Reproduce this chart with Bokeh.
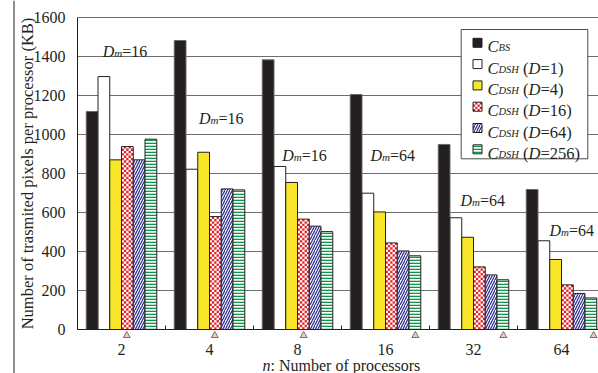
import math
from bokeh.plotting import figure
from bokeh.models import Range1d, FixedTicker, ColumnDataSource, Span
from bokeh.core.properties import value, field
from bokeh.embed import file_html
from bokeh.resources import INLINE

# ---------------- data ----------------
processors = ["2", "4", "8", "16", "32", "64"]
c_bs      = [1118, 1482, 1383, 1205, 949, 718]
c_dsh_1   = [1297, 822, 836, 699, 573, 455]
c_dsh_4   = [870, 909, 754, 603, 473, 359]
c_dsh_16  = [938, 579, 566, 444, 321, 229]
c_dsh_64  = [870, 721, 530, 403, 280, 185]
c_dsh_256 = [976, 716, 502, 378, 255, 162]
dm_values = ["16", "16", "16", "64", "64", "64"]
legend_sub = ["BS", "DSH", "DSH", "DSH", "DSH", "DSH"]
legend_d = [None, "1", "4", "16", "64", "256"]
y_ticks = [0, 200, 400, 600, 800, 1000, 1200, 1400, 1600]
y_title = "Number of trasmited pixels per processor (KB)"
x_title_var = "n"
x_title_rest = ": Number of processors"

# ---------------- geometry helpers (reference screen px -> data) ----------------
PX_GROUP = 88.0
PX_UNIT = 312.0 / 1600.0

def dx(sx):
    return (sx - 77.0) / PX_GROUP

def dy(sy):
    return (329.0 - sy) / PX_UNIT

FONT = "Liberation Serif"
INK = "#231f20"
RED = "#e3232b"

p = figure(width=598, height=373, output_backend="svg", toolbar_location=None,
           x_range=Range1d(dx(0), dx(598)), y_range=Range1d(dy(373), dy(0)),
           min_border=0, min_border_left=0, min_border_right=0,
           min_border_top=0, min_border_bottom=0)
p.outline_line_color = None
p.background_fill_color = "white"
p.border_fill_color = "white"

# grid
p.xgrid.visible = False
p.ygrid.ticker = FixedTicker(ticks=y_ticks)
p.ygrid.grid_line_color = "#6e6e6e"
p.ygrid.grid_line_width = 1
grid_ok = True
try:
    p.ygrid.cross_bounds = (0, 6)
except Exception:
    grid_ok = False
if not grid_ok:
    p.quad(left=[dx(0)], right=[0], bottom=[dy(373)], top=[dy(0)],
           fill_color="white", line_color=None)

# axes
p.xaxis.fixed_location = 0
p.xaxis.bounds = (0, 6)
p.xaxis.ticker = FixedTicker(ticks=[i + 0.5 for i in range(len(processors))],
                             minor_ticks=list(range(len(processors) + 1)))
p.xaxis.major_label_overrides = {i + 0.5: lab for i, lab in enumerate(processors)}
p.xaxis.major_tick_line_color = None
p.xaxis.major_tick_out = 0
p.xaxis.major_tick_in = 0
p.xaxis.minor_tick_in = 4
p.xaxis.minor_tick_out = 0
p.xaxis.minor_tick_line_color = INK
p.xaxis.major_label_standoff = 14
p.xaxis.axis_line_color = INK

p.yaxis.fixed_location = 0
p.yaxis.bounds = (0, 1600)
p.yaxis.ticker = FixedTicker(ticks=y_ticks)
p.yaxis.major_tick_line_color = None
p.yaxis.minor_tick_line_color = None
p.yaxis.major_tick_out = 0
p.yaxis.major_tick_in = 0
p.yaxis.major_label_standoff = 12
p.yaxis.axis_line_color = INK

for ax in (p.xaxis[0], p.yaxis[0]):
    ax.major_label_text_font = FONT
    ax.major_label_text_font_size = "16px"
    ax.major_label_text_color = INK

# outer frame line of the original figure
p.add_layout(Span(location=dx(13.5), dimension="height", line_color=INK, line_width=1))

# ---------------- bars ----------------
styles = [
    dict(fill_color="#231f20", line_color="#6a6a6a"),
    dict(fill_color="white", line_color=INK),
    dict(fill_color="#f9e62a", line_color=INK),
    "checker",
    dict(fill_color="white", line_color=INK, hatch_pattern="/", hatch_color="#2e3192",
         hatch_scale=5, hatch_weight=1.25),
    dict(fill_color="white", line_color=INK, hatch_pattern="-", hatch_color="#0f9548",
         hatch_scale=3, hatch_weight=1.6),
]
series = [c_bs, c_dsh_1, c_dsh_4, c_dsh_16, c_dsh_64, c_dsh_256]
W = 11.75 / PX_GROUP


def checker_cells(xl, xr, bottom, top, ncols, store):
    cw = (xr - xl) / ncols
    ch = cw * PX_GROUP / PX_UNIT
    rows = int(math.ceil((top - bottom) / ch - 1e-9))
    for r in range(rows):
        for c in range(ncols):
            if (r + c) % 2 == 0:
                store["left"].append(xl + c * cw)
                store["right"].append(xl + (c + 1) * cw)
                store["bottom"].append(bottom + r * ch)
                store["top"].append(min(bottom + (r + 1) * ch, top))


for j, (vals, st) in enumerate(zip(series, styles)):
    xs = [i + 0.5 + (j - 2.5) * W for i in range(len(processors))]
    if st == "checker":
        p.vbar(x=xs, bottom=0, top=vals, width=W, fill_color="white", line_color=None)
        cells = dict(left=[], right=[], bottom=[], top=[])
        for xc, v in zip(xs, vals):
            checker_cells(xc - W / 2, xc + W / 2, 0, v, 5, cells)
        p.quad(source=ColumnDataSource(cells), left="left", right="right",
               bottom="bottom", top="top", fill_color=RED, line_color=None)
        p.vbar(x=xs, bottom=0, top=vals, width=W, fill_color=None, line_color=INK,
               line_width=1)
    else:
        p.vbar(x=xs, bottom=0, top=vals, width=W, line_width=1, **st)

# small triangle markers under the axis
tri_offsets = [0.56, 0.56, 0.57, 0.84, 0.84, 0.865]
p.scatter(x=[i + o for i, o in enumerate(tri_offsets)], y=[dy(335)] * 6,
          marker="triangle", size=7, fill_color="#f3c3c9", line_color="#555555",
          line_width=0.8)

# ---------------- rich text helper ----------------
REG = {' ': 250, '(': 333, ')': 333, '=': 564, ':': 278, 'N': 722, 'K': 722, 'B': 667,
       'u': 500, 'm': 778, 'b': 500, 'e': 444, 'r': 333, 'o': 500, 'f': 333,
       'p': 500, 'c': 444, 's': 389}
ITA = {'C': 667, 'D': 722, 'B': 611, 'S': 500, 'H': 722, 'm': 722, 'n': 500}


def width(s, size, style):
    tab = ITA if style == "italic" else REG
    return sum(tab.get(ch, 500) for ch in s) / 1000.0 * size


rt = dict(x=[], y=[], text=[], xo=[], yo=[], size=[], style=[])


def rich(x, y, pieces):
    off = 0.0
    for txt, size, style, dyp in pieces:
        if txt.strip():
            rt["x"].append(x); rt["y"].append(y); rt["text"].append(txt)
            rt["xo"].append(off); rt["yo"].append(dyp)
            rt["size"].append(f"{size}px"); rt["style"].append(style)
        off += width(txt, size, style)


# D_m annotations
dm_pos = [(102.3, 51), (198.5, 118), (281.7, 155), (370, 155), (460, 200), (549, 230)]
for (sx, sy), v in zip(dm_pos, dm_values):
    rich(dx(sx), dy(sy), [("D", 16, "italic", 0), ("m", 11, "italic", 1),
                          ("=" + v, 16, "normal", 0)])

# legend box
lg_left, lg_right, lg_top, lg_bottom = 460.7, 587.3, 29, 158.3
p.quad(left=[dx(lg_left)], right=[dx(lg_right)], top=[dy(lg_top)], bottom=[dy(lg_bottom)],
       fill_color="white", line_color="#4a4a4a", line_width=1)
row_c = [42.3 + 21.3 * k for k in range(6)]
SW = 9.0
for k, st in enumerate(styles):
    cx, cy = dx(477), dy(row_c[k])
    if st == "checker":
        hw, hh = SW / 2 / PX_GROUP, SW / 2 / PX_UNIT
        p.rect(x=[cx], y=[cy], width=SW, height=SW, width_units="screen",
               height_units="screen", fill_color="white", line_color=None)
        cells = dict(left=[], right=[], bottom=[], top=[])
        checker_cells(cx - hw, cx + hw, cy - hh, cy + hh, 4, cells)
        p.quad(source=ColumnDataSource(cells), left="left", right="right",
               bottom="bottom", top="top", fill_color=RED, line_color=None)
        p.rect(x=[cx], y=[cy], width=SW, height=SW, width_units="screen",
               height_units="screen", fill_color=None, line_color=INK, line_width=1)
    else:
        st2 = dict(st)
        if k == 0:
            st2["line_color"] = INK
        p.rect(x=[cx], y=[cy], width=SW, height=SW, width_units="screen",
               height_units="screen", line_width=1, **st2)
LF = 16.5
for k in range(6):
    pieces = [("C", LF, "italic", 0), (legend_sub[k], 10.5, "italic", 1)]
    if legend_d[k] is not None:
        pieces += [(" ", LF, "normal", 0), ("(", LF, "normal", 0), ("D", LF, "italic", 0),
                   ("=" + legend_d[k] + ")", LF, "normal", 0)]
    rich(dx(487), dy(row_c[k] + 4), pieces)

# x axis title
rich(dx(262), dy(365), [(x_title_var, 16, "italic", 0), (x_title_rest, 16, "normal", 0)])

src = ColumnDataSource(rt)
p.text(x="x", y="y", text="text", x_offset="xo", y_offset="yo", source=src,
       text_font=value(FONT), text_font_size=field("size"), text_font_style=field("style"),
       text_color=INK, text_align="left", text_baseline="alphabetic")

# y axis title
p.text(x=[dx(27)], y=[dy(173)], text=[y_title], angle=math.pi / 2,
       text_font=value(FONT), text_font_size="16.5px", text_color=INK,
       text_align="center", text_baseline="middle")

open("out.html", "w").write(file_html(p, INLINE))
